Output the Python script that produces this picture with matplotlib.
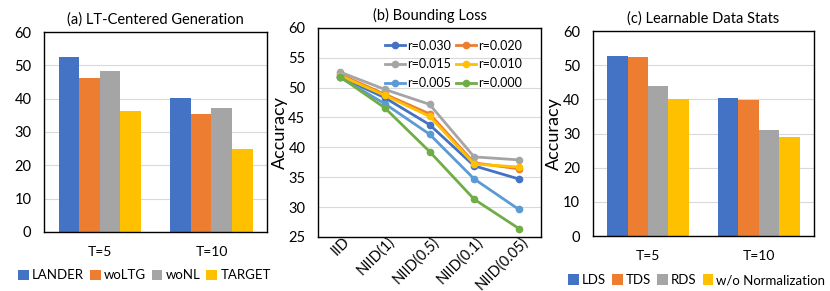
import matplotlib.pyplot as plt
import matplotlib.transforms as mtransforms
import numpy as np

plt.rcParams['font.family'] = ['Lato', 'DejaVu Sans']

# (a) LT-Centered Generation
groups = ['T=5', 'T=10']
a_names = ['LANDER', 'woLTG', 'woNL', 'TARGET']
a_vals = [[52.5, 40.2], [46.3, 35.3], [48.2, 37.1], [36.3, 24.8]]

# (b) Bounding Loss
b_x = ['IID', 'NIID(1)', 'NIID(0.5)', 'NIID(0.1)', 'NIID(0.05)']
b_names = ['r=0.030', 'r=0.020', 'r=0.015', 'r=0.010', 'r=0.005', 'r=0.000']
r030 = [51.8, 48.3, 43.8, 36.9, 34.7]
r020 = [52.2, 48.9, 45.6, 37.4, 36.4]
r015 = [52.6, 49.7, 47.2, 38.4, 37.9]
r010 = [52.0, 48.7, 45.2, 37.2, 36.7]
r005 = [51.7, 47.3, 42.2, 34.7, 29.6]
r000 = [51.8, 46.6, 39.3, 31.3, 26.4]

# (c) Learnable Data Stats
c_names = ['LDS', 'TDS', 'RDS', 'w/o Normalization']
c_vals = [[52.6, 40.3], [52.3, 39.9], [43.8, 30.9], [40.2, 29.0]]

bar_cols = ['#4472C4', '#ED7D31', '#A5A5A5', '#FFC000']
line_cols = ['#4472C4', '#ED7D31', '#A5A5A5', '#FFC000', '#5B9BD5', '#70AD47']

fig = plt.figure(figsize=(8.3, 2.91), dpi=100)
axa = fig.add_axes([0.053, 0.203, 0.269, 0.687])
axb = fig.add_axes([0.383, 0.186, 0.269, 0.718])
axc = fig.add_axes([0.714, 0.189, 0.267, 0.704])


def style(ax):
    ax.grid(axis='y', color='#D9D9D9', lw=0.8)
    ax.set_axisbelow(True)
    for s in ax.spines.values():
        s.set_color('black')
        s.set_linewidth(1.0)
    ax.tick_params(length=0, labelsize=10.5)
    ax.tick_params(axis='y', pad=9)


def bars(ax, names, vals, title, legx):
    x = np.arange(len(groups))
    w = 0.184
    for i, (n, v) in enumerate(zip(names, vals)):
        ax.bar(x + (i - 1.5) * w, v, w, color=bar_cols[i], label=n)
    ax.set_xlim(-0.5, 1.5)
    ax.set_ylim(0, 60)
    ax.set_yticks(range(0, 61, 10))
    ax.set_xticks(x)
    ax.set_xticklabels(groups)
    style(ax)
    ax.tick_params(axis='x', pad=10, labelsize=10)
    ax.set_title(title, fontsize=10.5, pad=6)
    ax.legend(loc='upper center', bbox_to_anchor=(legx, -0.16), ncol=4, frameon=False,
              fontsize=9.5, handlelength=0.8, handleheight=0.8, handletextpad=0.25,
              columnspacing=0.45, borderaxespad=0)


bars(axa, a_names, a_vals, '(a) LT-Centered Generation', 0.45)
bars(axc, c_names, c_vals, '(c) Learnable Data Stats', 0.47)
axc.set_ylabel('Accuracy', fontsize=13, labelpad=1)

xb = np.arange(len(b_x))
lines = []
for n, v, c in zip(b_names, [r030, r020, r015, r010, r005, r000], line_cols):
    lines += axb.plot(xb, v, color=c, lw=2, marker='o', ms=4.5, label=n)
axb.set_xlim(-0.5, 4.5)
axb.set_ylim(25, 60)
axb.set_yticks(range(25, 61, 5))
axb.set_xticks(xb)
axb.set_xticklabels(b_x, rotation=45, ha='right', va='center', rotation_mode='anchor', fontsize=6.5)
style(axb)
axb.tick_params(axis='x', pad=2)
off = mtransforms.ScaledTranslation(7 / 100, 0, fig.dpi_scale_trans)
for lab in axb.get_xticklabels():
    lab.set_transform(lab.get_transform() + off)
axb.set_title('(b) Bounding Loss', fontsize=10.5, pad=6)
axb.set_ylabel('Accuracy', fontsize=13, labelpad=0)
order = [0, 2, 4, 1, 3, 5]
axb.legend([lines[i] for i in order], [b_names[i] for i in order],
           loc='upper right', ncol=2, frameon=False, fontsize=9, handlelength=1.6,
           handletextpad=0.2, columnspacing=0.4, labelspacing=0.55,
           bbox_to_anchor=(0.95, 0.98), borderaxespad=0.2)

fig.savefig('out.png', dpi=100)
